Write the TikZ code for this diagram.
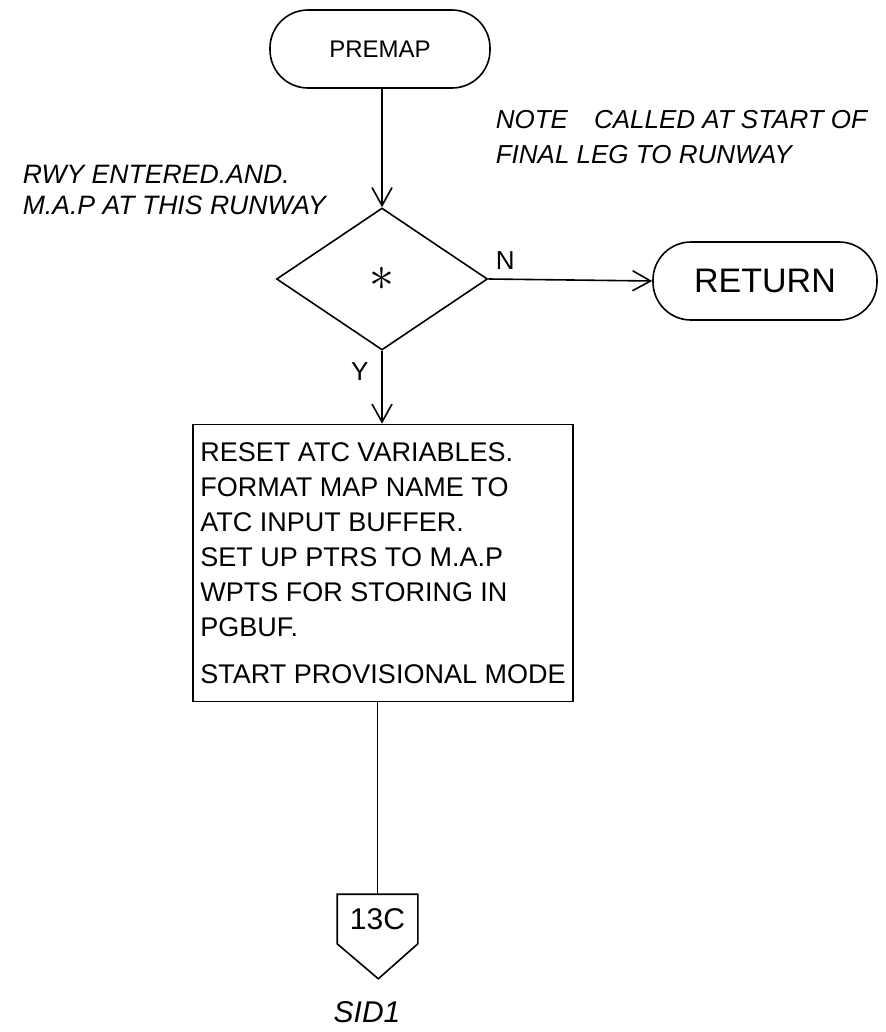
\documentclass[tikz,border=0pt]{standalone}
\usepackage{fontspec}
\setmainfont{Liberation Sans}
\usetikzlibrary{positioning, shapes.geometric, arrows.meta}

\begin{document}
\begin{tikzpicture}[x=0.5pt, y=-0.5pt, line width=0.8pt,
    >={Straight Barb[length=9pt, width=10pt]},
    term/.style={draw, rounded corners=19pt, minimum width=110pt, minimum height=39pt},
    remark/.style={align=left, font=\itshape\fontsize{13}{17.5}\selectfont, inner sep=0pt},
    tag/.style={font=\fontsize{13}{15}\selectfont}]
  \useasboundingbox (0,0) rectangle (885,1032);

  % entry, test and exit
  \node[term, font=\fontsize{12}{14}\selectfont] (start) at (380,49) {PREMAP};
  \node[draw, diamond, minimum width=105.5pt, minimum height=71pt, inner sep=0pt]
    (test) at (382,279) {\fontsize{28}{28}\selectfont$\ast$};
  \node[term, minimum width=112pt, font=\fontsize{17}{20}\selectfont] (ret) at (765,281) {RETURN};

  % processing block
  \node[draw, minimum width=190pt, minimum height=138.5pt, align=left,
    font=\fontsize{13.5}{17.5}\selectfont] (setup) at (383,563)
    {RESET ATC VARIABLES.\\ FORMAT MAP NAME TO\\ ATC INPUT BUFFER.\\
     SET UP PTRS TO M.A.P\\ WPTS FOR STORING IN\\ PGBUF.\\[6pt] START PROVISIONAL MODE};

  % off-page connector
  \node[minimum width=39.5pt, minimum height=24pt, inner sep=0pt,
    font=\fontsize{15}{18}\selectfont] (conn) at (377.5,919) {13C};
  \draw (conn.north west) -- (conn.north east) -- (conn.south east)
    -- ++(-39.5,35) -- (conn.south west) -- cycle;
  \node[font=\itshape\fontsize{15}{18}\selectfont] (page) at (367,1012) {SID1};

  % notes
  \node[remark, anchor=north west] (note) at (495,110)
    {NOTE\quad CALLED AT START OF\\ FINAL LEG TO RUNWAY};
  \node[remark, font=\itshape\fontsize{13.3}{15.5}\selectfont, anchor=north west] (cond) at (22,164)
    {RWY ENTERED.AND.\\ M.A.P AT THIS RUNWAY};

  % flow
  \draw[->] (test.north |- start.south) -- (test.north);
  \draw[->] (test.east) -- node[pos=0, above right=1pt and 0pt, tag] {N} (ret.west);
  \draw[->] (test.south) -- node[pos=0, below left=2pt and 3pt, tag] {Y}
    (test.south |- setup.north);
  \draw (conn.north |- setup.south) -- (conn.north);
\end{tikzpicture}
\end{document}
